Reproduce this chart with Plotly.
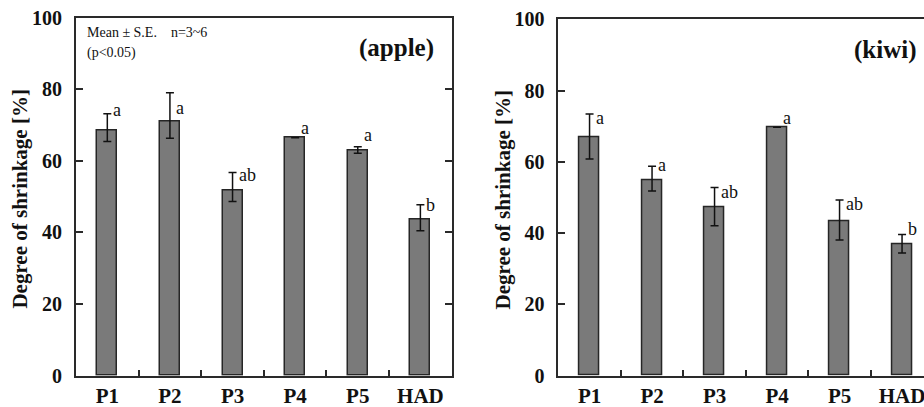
import plotly.graph_objects as go

categories = ["P1", "P2", "P3", "P4", "P5", "HAD"]

apple_mean = [68.4, 71.1, 51.8, 66.4, 63.0, 43.5]
apple_err_up = [4.7, 7.9, 4.9, 0.0, 0.9, 4.2]
apple_err_down = [3.0, 4.8, 3.2, 0.0, 0.9, 3.0]
apple_letters = ["a", "a", "ab", "a", "a", "b"]
apple_letter_y = [73.3, 74.0, 55.3, 68.2, 66.5, 46.8]

kiwi_mean = [66.9, 54.9, 47.2, 69.7, 43.3, 36.8]
kiwi_err_up = [6.5, 3.9, 5.6, 0.0, 6.0, 2.8]
kiwi_err_down = [6.1, 3.1, 5.1, 0.0, 5.2, 2.4]
kiwi_letters = ["a", "a", "ab", "a", "ab", "b"]
kiwi_letter_y = [71.5, 58.3, 50.7, 71.4, 47.2, 40.2]

y_ticks = [0, 20, 40, 60, 80, 100]

W, H = 924, 407
SERIF = "Times New Roman, Liberation Serif, serif"
FRAME = "#2a2a2a"

fig = go.Figure()

def add_bars(means, up, down, xa, ya):
    fig.add_trace(go.Bar(
        x=categories, y=means, xaxis=xa, yaxis=ya, width=0.32,
        marker=dict(color="#7a7a7a", line=dict(color="#262626", width=1.5)),
        error_y=dict(type="data", symmetric=False, array=up, arrayminus=down,
                     color="#111111", thickness=1.5, width=4),
        showlegend=False, hoverinfo="skip"))

add_bars(apple_mean, apple_err_up, apple_err_down, "x", "y")
add_bars(kiwi_mean, kiwi_err_up, kiwi_err_down, "x2", "y2")

def px_x(p):
    return p / W

def px_y(p):
    return (H - p) / H

# panel geometry in pixels
L1, R1 = 76.0, 451.7
L2 = 558.3
cat_w2 = 62.5
BOT = 375.7
TOP1, TOP2 = 17.5, 19.3

xcommon = dict(type="category", tickson="boundaries", ticks="inside", ticklen=6,
               tickcolor=FRAME, tickwidth=1.5, showline=True, linecolor=FRAME,
               linewidth=1.8, mirror=True, showgrid=False, zeroline=False,
               tickfont=dict(family=SERIF, size=21, color="#111", weight="bold"),
               automargin=False)
ycommon = dict(range=[0, 100], tickvals=y_ticks, ticks="inside", ticklen=7,
               tickcolor=FRAME, tickwidth=1.5, showline=True, linecolor=FRAME,
               linewidth=1.8, showgrid=False, zeroline=False,
               tickfont=dict(family=SERIF, size=20, color="#111", weight="bold"),
               ticklabelstandoff=8, automargin=False)

fig.update_layout(
    width=W, height=H, margin=dict(l=0, r=0, t=0, b=0),
    paper_bgcolor="white", plot_bgcolor="white", bargap=0,
    font=dict(family=SERIF),
    xaxis=dict(domain=[px_x(L1), px_x(R1)], range=[-0.5, 5.5], anchor="y", **xcommon),
    yaxis=dict(domain=[px_y(BOT), px_y(TOP1)], anchor="x", mirror="ticks", **ycommon),
    xaxis2=dict(domain=[px_x(L2), 1.0], range=[-0.5, -0.5 + (W - L2) / cat_w2],
                anchor="y2", **xcommon),
    yaxis2=dict(domain=[px_y(BOT), px_y(TOP2)], anchor="x2", mirror=False, **ycommon),
)

ann = []
for cat, lab, ly in zip(categories, apple_letters, apple_letter_y):
    ann.append(dict(x=cat, y=ly, xref="x", yref="y", text=lab, showarrow=False,
                    xanchor="left", yanchor="middle", xshift=4, yshift=3,
                    font=dict(family=SERIF, size=18, color="#111")))
for cat, lab, ly in zip(categories, kiwi_letters, kiwi_letter_y):
    ann.append(dict(x=cat, y=ly, xref="x2", yref="y2", text=lab, showarrow=False,
                    xanchor="left", yanchor="middle", xshift=4, yshift=3,
                    font=dict(family=SERIF, size=18, color="#111")))

title_font = dict(family=SERIF, size=21, color="#111", weight="bold")
ann.append(dict(x=px_x(20), y=px_y((BOT + TOP1) / 2 + 2), xref="paper", yref="paper",
                text="Degree of shrinkage [%]", textangle=-90, showarrow=False,
                xanchor="center", yanchor="middle", font=title_font))
ann.append(dict(x=px_x(502), y=px_y((BOT + TOP2) / 2 + 2), xref="paper", yref="paper",
                text="Degree of shrinkage [%]", textangle=-90, showarrow=False,
                xanchor="center", yanchor="middle", font=title_font))

ann.append(dict(x=px_x(85), y=px_y(33), xref="paper", yref="paper",
                text="Mean ± S.E.    n=3~6", showarrow=False, xanchor="left",
                yanchor="middle", font=dict(family=SERIF, size=14, color="#111")))
ann.append(dict(x=px_x(85), y=px_y(53), xref="paper", yref="paper",
                text="(p<0.05)", showarrow=False, xanchor="left",
                yanchor="middle", font=dict(family=SERIF, size=14, color="#111")))

ann.append(dict(x=px_x(436), y=px_y(48), xref="paper", yref="paper",
                text="(apple)", showarrow=False, xanchor="right", yanchor="middle",
                font=dict(family=SERIF, size=25, color="#111", weight="bold")))
ann.append(dict(x=px_x(919), y=px_y(50), xref="paper", yref="paper",
                text="(kiwi)", showarrow=False, xanchor="right", yanchor="middle",
                font=dict(family=SERIF, size=25, color="#111", weight="bold")))

fig.update_layout(annotations=ann)

fig.write_html("out.html")
